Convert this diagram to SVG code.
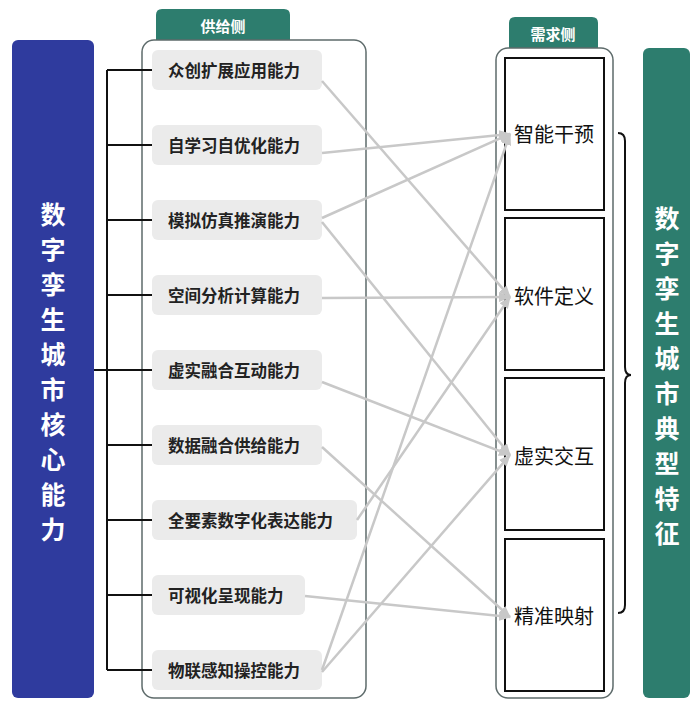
<svg xmlns="http://www.w3.org/2000/svg" width="700" height="704" viewBox="0 0 700 704">
<defs>
<style>
.item rect{fill:#ebebeb;}
.item text{font-family:"Noto Sans CJK SC",sans-serif;font-size:16.5px;font-weight:700;fill:#222;dominant-baseline:central;}
.dem rect{fill:#fff;stroke:#111;stroke-width:2;}
.dem text{font-family:"Noto Sans CJK SC",sans-serif;font-size:20px;fill:#111;text-anchor:middle;dominant-baseline:central;}
.vt{font-family:"Noto Sans CJK SC",sans-serif;font-size:25px;font-weight:700;fill:#fff;text-anchor:middle;dominant-baseline:central;}
.tab text{font-family:"Noto Sans CJK SC",sans-serif;font-size:15px;font-weight:700;fill:#fff;text-anchor:middle;dominant-baseline:central;}
.conn line{stroke:#c8c8c8;stroke-width:2.5;marker-end:url(#ah);}
.brk{stroke:#111;stroke-width:2;fill:none;}
</style>
<marker id="ah" markerWidth="12" markerHeight="10" refX="11" refY="5" orient="auto" markerUnits="userSpaceOnUse">
<path d="M0,0 L12,5 L0,10 Z" fill="#c8c8c8"/>
</marker>
</defs>
<rect width="700" height="704" fill="#fff"/>

<g id="core">
<rect x="12" y="40" width="82" height="658" rx="6" fill="#2f3b9e"/>
<text class="vt" x="53" y="213">数</text><text class="vt" x="53" y="248">字</text><text class="vt" x="53" y="283">孪</text><text class="vt" x="53" y="318">生</text><text class="vt" x="53" y="353">城</text><text class="vt" x="53" y="388">市</text><text class="vt" x="53" y="423">核</text><text class="vt" x="53" y="458">心</text><text class="vt" x="53" y="493">能</text><text class="vt" x="53" y="528">力</text>
</g>

<g id="features">
<rect x="643" y="48" width="47" height="650" rx="6" fill="#2d7d6e"/>
<text class="vt" x="667" y="217">数</text><text class="vt" x="667" y="252">字</text><text class="vt" x="667" y="287">孪</text><text class="vt" x="667" y="322">生</text><text class="vt" x="667" y="357">城</text><text class="vt" x="667" y="392">市</text><text class="vt" x="667" y="427">典</text><text class="vt" x="667" y="462">型</text><text class="vt" x="667" y="497">特</text><text class="vt" x="667" y="532">征</text>
</g>

<g id="supply">
<g class="tab"><path d="M156,40 V15 Q156,9 162,9 H284 Q290,9 290,15 V40 Z" fill="#2d7d6e"/><text x="223" y="25">供给侧</text></g>
<rect x="142" y="40" width="224" height="658" rx="12" fill="none" stroke="#5e6b6b" stroke-width="1.5"/>
</g>

<g id="demand">
<g class="tab"><path d="M509,48 V23 Q509,17 515,17 H592 Q598,17 598,23 V48 Z" fill="#2d7d6e"/><text x="553" y="33">需求侧</text></g>
<rect x="496" y="48" width="117" height="650" rx="12" fill="none" stroke="#5e6b6b" stroke-width="1.5"/>
</g>

<g id="bracket-left">
<path class="brk" d="M107,70 V670 M94,370 H152 M107,70 H152 M107,145 H152 M107,220 H152 M107,295 H152 M107,445 H152 M107,520 H152 M107,595 H152 M107,670 H152"/>
</g>

<g id="brace-right">
<path class="brk" d="M618,133 Q625,133 625,141 V367 Q625,375 631,375 Q625,375 625,383 V605 Q625,613 618,613"/>
</g>

<g id="s1" class="item"><rect x="152" y="50" width="170" height="40" rx="6"/><text x="168" y="70">众创扩展应用能力</text></g>
<g id="s2" class="item"><rect x="152" y="125" width="170" height="40" rx="6"/><text x="168" y="145">自学习自优化能力</text></g>
<g id="s3" class="item"><rect x="152" y="200" width="170" height="40" rx="6"/><text x="168" y="220">模拟仿真推演能力</text></g>
<g id="s4" class="item"><rect x="152" y="275" width="170" height="40" rx="6"/><text x="168" y="295">空间分析计算能力</text></g>
<g id="s5" class="item"><rect x="152" y="350" width="170" height="40" rx="6"/><text x="168" y="370">虚实融合互动能力</text></g>
<g id="s6" class="item"><rect x="152" y="425" width="170" height="40" rx="6"/><text x="168" y="445">数据融合供给能力</text></g>
<g id="s7" class="item"><rect x="152" y="500" width="205" height="40" rx="6"/><text x="168" y="520">全要素数字化表达能力</text></g>
<g id="s8" class="item"><rect x="152" y="575" width="153" height="40" rx="6"/><text x="168" y="595">可视化呈现能力</text></g>
<g id="s9" class="item"><rect x="152" y="650" width="170" height="40" rx="6"/><text x="168" y="670">物联感知操控能力</text></g>

<g id="d1" class="dem"><rect x="505" y="58" width="99" height="152"/><text x="554" y="133">智能干预</text></g>
<g id="d2" class="dem"><rect x="505" y="218" width="99" height="152"/><text x="554" y="295">软件定义</text></g>
<g id="d3" class="dem"><rect x="505" y="378" width="99" height="152"/><text x="554" y="455">虚实交互</text></g>
<g id="d4" class="dem"><rect x="505" y="539" width="99" height="152"/><text x="554" y="615">精准映射</text></g>

<g id="connectors" class="conn">
<line x1="322" y1="81" x2="510" y2="297"/>
<line x1="322" y1="153" x2="510" y2="134"/>
<line x1="322" y1="218" x2="510" y2="134"/>
<line x1="322" y1="222" x2="510" y2="455"/>
<line x1="322" y1="298" x2="510" y2="297"/>
<line x1="322" y1="382" x2="510" y2="455"/>
<line x1="322" y1="447" x2="510" y2="617"/>
<line x1="357" y1="520" x2="510" y2="297"/>
<line x1="305" y1="596" x2="510" y2="617"/>
<line x1="322" y1="670" x2="510" y2="134"/>
<line x1="322" y1="672" x2="510" y2="455"/>
</g>
</svg>
